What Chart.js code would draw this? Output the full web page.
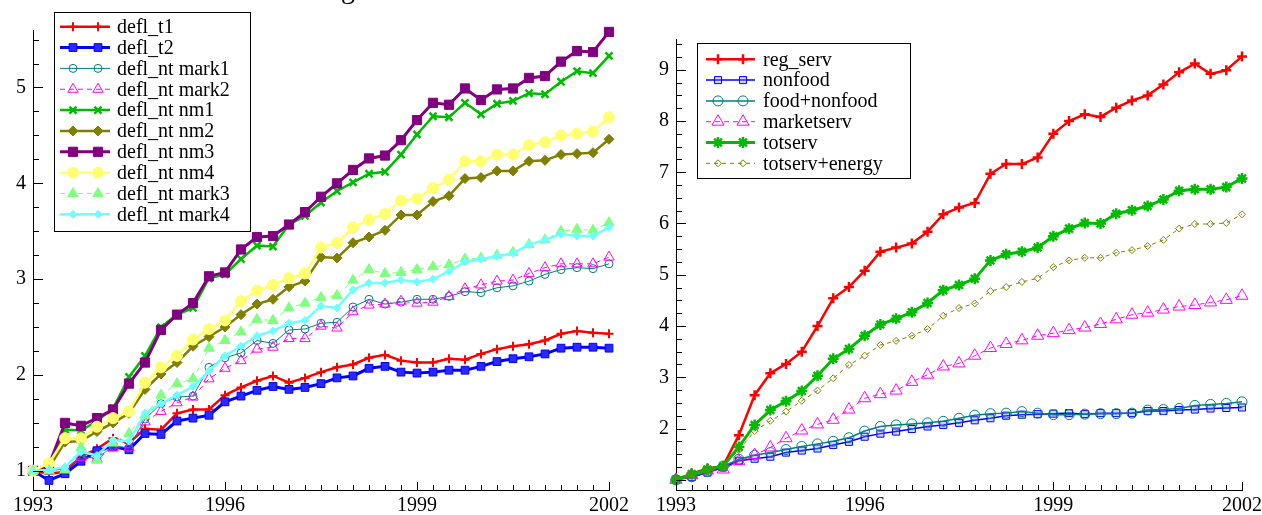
<!DOCTYPE html>
<html><head><meta charset="utf-8">
<script src="https://cdn.jsdelivr.net/npm/chart.js@4/dist/chart.umd.min.js"></script>
<style>
html,body{margin:0;padding:0;background:#fff;overflow:hidden;width:1262px;height:515px}
#c1{position:absolute;left:0;top:0}
#c2{position:absolute;left:631px;top:0}
</style></head><body>
<canvas id="c1" width="631" height="515"></canvas>
<canvas id="c2" width="631" height="515"></canvas>
<script>
// ---------- categories & tick labels ----------
const quarters = ['1993Q1','1993Q2','1993Q3','1993Q4','1994Q1','1994Q2','1994Q3','1994Q4',
  '1995Q1','1995Q2','1995Q3','1995Q4','1996Q1','1996Q2','1996Q3','1996Q4',
  '1997Q1','1997Q2','1997Q3','1997Q4','1998Q1','1998Q2','1998Q3','1998Q4',
  '1999Q1','1999Q2','1999Q3','1999Q4','2000Q1','2000Q2','2000Q3','2000Q4',
  '2001Q1','2001Q2','2001Q3','2001Q4','2002Q1'];
const xTickLabels = ['1993','1996','1999','2002'];
const yTickLabelsLeft = ['1','2','3','4','5'];
const yTickLabelsRight = ['2','3','4','5','6','7','8','9'];
const titleFragment = 'g';

// ---------- left panel series ----------
const defl_t1 = [1.00,0.97,0.99,1.15,1.23,1.34,1.29,1.44,1.43,1.60,1.64,1.64,1.79,1.87,1.94,1.99,1.92,1.97,2.03,2.08,2.11,2.18,2.21,2.15,2.13,2.13,2.17,2.16,2.22,2.27,2.30,2.32,2.36,2.43,2.46,2.44,2.43];
const defl_t2 = [1.00,0.90,0.97,1.10,1.21,1.25,1.22,1.39,1.38,1.52,1.55,1.58,1.72,1.78,1.84,1.88,1.85,1.87,1.91,1.97,1.99,2.07,2.09,2.03,2.02,2.03,2.05,2.05,2.09,2.14,2.17,2.19,2.22,2.28,2.29,2.29,2.28];
const defl_nt_mark1 = [1.00,1.00,1.02,1.15,1.13,1.26,1.24,1.54,1.70,1.77,1.78,2.08,2.18,2.23,2.36,2.33,2.47,2.48,2.54,2.55,2.71,2.79,2.74,2.76,2.79,2.79,2.82,2.87,2.86,2.91,2.93,2.98,3.05,3.10,3.12,3.11,3.16];
const defl_nt_mark2 = [1.00,1.00,1.02,1.14,1.12,1.24,1.24,1.51,1.62,1.71,1.77,1.96,2.07,2.15,2.27,2.29,2.38,2.38,2.51,2.49,2.66,2.73,2.74,2.77,2.75,2.76,2.82,2.90,2.94,2.98,2.99,3.06,3.12,3.16,3.16,3.16,3.23];
const defl_nt_nm1 = [1.00,1.03,1.43,1.42,1.52,1.65,1.98,2.20,2.50,2.63,2.70,3.01,3.05,3.21,3.35,3.34,3.57,3.66,3.80,3.92,4.01,4.10,4.12,4.30,4.51,4.70,4.69,4.84,4.72,4.83,4.86,4.94,4.93,5.06,5.17,5.15,5.33];
const defl_nt_nm2 = [1.00,1.03,1.30,1.31,1.41,1.50,1.60,1.85,2.01,2.13,2.30,2.40,2.50,2.63,2.74,2.79,2.92,2.98,3.23,3.22,3.38,3.44,3.51,3.67,3.67,3.81,3.87,4.05,4.06,4.13,4.13,4.23,4.24,4.30,4.31,4.32,4.46];
const defl_nt_nm3 = [1.00,1.06,1.50,1.47,1.55,1.64,1.91,2.13,2.47,2.63,2.75,3.03,3.07,3.31,3.44,3.45,3.57,3.70,3.86,4.00,4.14,4.26,4.29,4.45,4.66,4.84,4.82,4.99,4.87,4.98,4.99,5.10,5.12,5.27,5.38,5.37,5.58];
const defl_nt_nm4 = [1.00,1.08,1.34,1.34,1.46,1.55,1.62,1.92,2.08,2.20,2.37,2.48,2.57,2.77,2.88,2.94,3.01,3.06,3.33,3.38,3.54,3.62,3.68,3.82,3.84,3.95,4.04,4.23,4.23,4.30,4.30,4.40,4.43,4.50,4.52,4.54,4.69];
const defl_nt_mark3 = [1.00,1.00,1.01,1.24,1.11,1.29,1.39,1.58,1.79,1.91,1.96,2.28,2.36,2.45,2.58,2.57,2.70,2.75,2.81,2.83,2.99,3.10,3.06,3.07,3.10,3.13,3.15,3.21,3.22,3.25,3.28,3.36,3.41,3.50,3.52,3.51,3.59];
const defl_nt_mark4 = [1.00,1.01,1.04,1.20,1.16,1.32,1.31,1.60,1.70,1.79,1.88,2.04,2.20,2.30,2.41,2.46,2.54,2.57,2.72,2.70,2.89,2.96,2.96,2.99,2.97,3.00,3.08,3.18,3.21,3.24,3.27,3.36,3.41,3.47,3.45,3.45,3.54];

// ---------- right panel series ----------
const reg_serv = [1.00,1.12,1.22,1.27,1.87,2.65,3.08,3.26,3.50,4.00,4.54,4.76,5.08,5.45,5.53,5.61,5.84,6.18,6.31,6.40,6.97,7.16,7.16,7.29,7.75,8.00,8.13,8.08,8.26,8.40,8.50,8.71,8.95,9.12,8.92,8.99,9.26];
const nonfood = [1.00,1.05,1.14,1.24,1.37,1.41,1.45,1.53,1.57,1.61,1.68,1.74,1.84,1.90,1.94,1.99,2.04,2.07,2.11,2.16,2.20,2.25,2.27,2.28,2.29,2.30,2.28,2.30,2.30,2.30,2.34,2.34,2.36,2.37,2.39,2.40,2.41];
const food_nonfood = [1.00,1.06,1.16,1.26,1.40,1.48,1.53,1.59,1.65,1.70,1.75,1.82,1.95,2.04,2.07,2.09,2.11,2.14,2.20,2.26,2.29,2.30,2.33,2.30,2.27,2.27,2.28,2.29,2.29,2.30,2.36,2.37,2.39,2.45,2.47,2.49,2.52];
const marketserv = [1.00,1.09,1.18,1.20,1.36,1.48,1.63,1.81,1.96,2.08,2.17,2.37,2.59,2.67,2.74,2.91,3.05,3.21,3.27,3.42,3.57,3.65,3.72,3.81,3.86,3.92,3.97,4.04,4.13,4.22,4.26,4.32,4.38,4.41,4.46,4.51,4.59];
const totserv = [1.00,1.11,1.20,1.27,1.64,2.07,2.36,2.53,2.73,3.03,3.36,3.55,3.81,4.03,4.14,4.27,4.45,4.70,4.80,4.92,5.28,5.40,5.45,5.53,5.75,5.90,6.01,6.00,6.19,6.26,6.34,6.47,6.64,6.67,6.67,6.71,6.88];
const totserv_energy = [1.00,1.10,1.20,1.26,1.58,1.95,2.15,2.33,2.54,2.74,2.98,3.24,3.42,3.63,3.71,3.81,3.94,4.20,4.35,4.44,4.68,4.76,4.86,4.93,5.15,5.28,5.33,5.33,5.43,5.48,5.56,5.68,5.90,5.99,5.99,6.01,6.18];

const FONT = '"Liberation Serif", "Times New Roman", serif';
const CLEAR = 'rgba(255,255,255,0)';

function ds(label, data, color, lw, pstyle, pr, pbw, fill, dash) {
  return {label, data, borderColor: color, borderWidth: lw, borderDash: dash || [],
    pointStyle: pstyle, pointRadius: pr, pointBorderWidth: pbw,
    pointBackgroundColor: fill, pointBorderColor: color,
    pointHoverRadius: pr, tension: 0, fill: false, clip: false};
}

const leftDatasets = [
  ds('defl_t1', defl_t1, '#ff0000', 2.5, 'cross', 4.5, 2, '#ff0000'),
  ds('defl_t2', defl_t2, '#0000ff', 3, 'rect', 5.5, 1, '#2a2aff'),
  ds('defl_nt mark1', defl_nt_mark1, '#008080', 1, 'circle', 4, 1, CLEAR),
  ds('defl_nt mark2', defl_nt_mark2, '#ff00ff', 1, 'triangle', 6, 1, CLEAR, [5,4]),
  ds('defl_nt nm1', defl_nt_nm1, '#00bb00', 2.5, 'crossRot', 5, 2.5, '#00bb00'),
  ds('defl_nt nm2', defl_nt_nm2, '#808000', 2.5, 'rectRot', 5, 1, '#808000'),
  ds('defl_nt nm3', defl_nt_nm3, '#800080', 3, 'rect', 6.5, 1, '#800080'),
  ds('defl_nt nm4', defl_nt_nm4, '#ffff70', 2.5, 'circle', 5.5, 1, '#ffff70'),
  ds('defl_nt mark3', defl_nt_mark3, '#80ff80', 1, 'triangle', 6, 1, '#80ff80', [5,4]),
  ds('defl_nt mark4', defl_nt_mark4, '#70ffff', 2.5, 'rectRot', 4, 1, '#70ffff')
];
const rightDatasets = [
  ds('reg_serv', reg_serv, '#ff0000', 2.5, 'cross', 5, 2.5, '#ff0000'),
  ds('nonfood', nonfood, '#0000ff', 1.5, 'rect', 5, 1, 'rgba(128,128,255,0.35)'),
  ds('food+nonfood', food_nonfood, '#008080', 1.5, 'circle', 5, 1, CLEAR),
  ds('marketserv', marketserv, '#ff00ff', 1, 'triangle', 7, 1, CLEAR, [5,4]),
  ds('totserv', totserv, '#00bb00', 3, 'star', 5.5, 2.5, '#00bb00'),
  ds('totserv+energy', totserv_energy, '#808000', 1, 'rectRot', 3.5, 1, CLEAR, [4,4])
];
[leftDatasets, rightDatasets].forEach(list => list.forEach((d, i) => { d.order = list.length - 1 - i; }));

const tickPlugin = {
  id: 'inTicks',
  afterDatasetsDraw(chart) {
    const {ctx, chartArea: a, scales: {x, y}} = chart;
    ctx.save();
    ctx.strokeStyle = '#000'; ctx.lineWidth = 1;
    ctx.beginPath();
    x.ticks.forEach((t, i) => {
      const px = Math.round(x.getPixelForTick(i)) + 0.5;
      const len = t.label ? 8 : 5;
      ctx.moveTo(px, a.bottom); ctx.lineTo(px, a.bottom - len);
    });
    y.ticks.forEach((t) => {
      const q = t.value * 4;
      if (Math.abs(q - Math.round(q)) > 1e-6) return;
      const py = Math.round(y.getPixelForValue(t.value)) + 0.5;
      const major = Math.abs(t.value - Math.round(t.value)) < 1e-6;
      ctx.moveTo(a.left, py); ctx.lineTo(a.left + (major ? 10 : 6), py);
    });
    ctx.stroke();
    ctx.restore();
  }
};

const legendPlugin = {
  id: 'boxLegend',
  afterDraw(chart, args, o) {
    const ctx = chart.ctx;
    ctx.save();
    ctx.fillStyle = '#fff';
    ctx.fillRect(o.x, o.y, o.w, o.h);
    ctx.strokeStyle = '#000'; ctx.lineWidth = 1;
    ctx.strokeRect(o.x + 0.5, o.y + 0.5, o.w, o.h);
    chart.data.datasets.forEach((d, i) => {
      const yy = o.row0 + i * o.rowH;
      ctx.save();
      ctx.strokeStyle = d.borderColor; ctx.lineWidth = d.borderWidth;
      ctx.setLineDash(d.borderDash || []);
      ctx.beginPath(); ctx.moveTo(o.lx0, yy); ctx.lineTo(o.lx1, yy); ctx.stroke();
      ctx.setLineDash([]);
      ctx.fillStyle = d.pointBackgroundColor; ctx.strokeStyle = d.pointBorderColor;
      ctx.lineWidth = d.pointBorderWidth;
      [o.m0, o.m1].forEach(mx => Chart.helpers.drawPoint(ctx,
        {pointStyle: d.pointStyle, radius: d.pointRadius, rotation: 0, borderWidth: d.pointBorderWidth}, mx, yy));
      ctx.restore();
      ctx.fillStyle = '#000'; ctx.font = '20px ' + FONT;
      ctx.textBaseline = 'middle'; ctx.textAlign = 'left';
      ctx.fillText(d.label, o.tx, yy + 1);
    });
    ctx.restore();
  }
};

const titlePlugin = {
  id: 'titleFrag',
  afterDraw(chart, args, o) {
    if (!o.text) return;
    const ctx = chart.ctx;
    ctx.save();
    ctx.fillStyle = '#000'; ctx.font = '28px ' + FONT;
    ctx.textAlign = 'center'; ctx.textBaseline = 'alphabetic';
    ctx.fillText(o.text, o.x, o.y);
    ctx.restore();
  }
};

function makeChart(id, datasets, yMin, yMax, yLabels, yWidth, pad, legendOpts, titleOpts) {
  return new Chart(document.getElementById(id), {
    type: 'line',
    data: {labels: quarters, datasets},
    plugins: [tickPlugin, legendPlugin, titlePlugin],
    options: {
      responsive: false, animation: false, events: [],
      layout: {padding: pad},
      plugins: {legend: {display: false}, tooltip: {enabled: false}, title: {display: false},
        boxLegend: legendOpts, titleFrag: titleOpts},
      scales: {
        x: {
          type: 'category', offset: false,
          grid: {display: false, drawTicks: false},
          border: {display: true, color: '#000', width: 1},
          ticks: {
            autoSkip: false, maxRotation: 0, minRotation: 0, padding: 4,
            color: '#000', font: {family: FONT, size: 20},
            callback: function(value) {
              const l = this.getLabelForValue(value);
              const yr = l.slice(0, 4);
              return (l.endsWith('Q1') && xTickLabels.includes(yr)) ? yr : '';
            }
          },
          afterFit(s) { s.height = 25; s.paddingLeft = 0; s.paddingRight = 0; }
        },
        y: {
          type: 'linear', min: yMin, max: yMax,
          grid: {display: false, drawTicks: false},
          border: {display: true, color: '#000', width: 1},
          ticks: {
            stepSize: 0.25, autoSkip: false, includeBounds: false, padding: 7,
            color: '#000', font: {family: FONT, size: 20},
            callback: function(v) {
              const r = Math.round(v);
              return (Math.abs(v - r) < 1e-6 && yLabels.includes(String(r))) ? String(r) : '';
            }
          },
          afterFit(s) { s.width = yWidth; s.paddingTop = 0; s.paddingBottom = 0; }
        }
      }
    }
  });
}

makeChart('c1', leftDatasets, 0.8, 5.6, yTickLabelsLeft, 33,
  {left: 0, right: 22, top: 30, bottom: 0},
  {x: 54, y: 12, w: 196, h: 219, row0: 26.7, rowH: 20.85, lx0: 60, lx1: 110, m0: 73, m1: 98, tx: 117},
  {text: titleFragment, x: 348, y: -2});

makeChart('c2', rightDatasets, 0.8, 9.6, yTickLabelsRight, 45,
  {left: 0, right: 20, top: 39, bottom: 0},
  {x: 66, y: 43, w: 213, h: 135, row0: 59.3, rowH: 20.8, lx0: 75, lx1: 124, m0: 87, m1: 112, tx: 132},
  {text: ''});
</script>
</body></html>
